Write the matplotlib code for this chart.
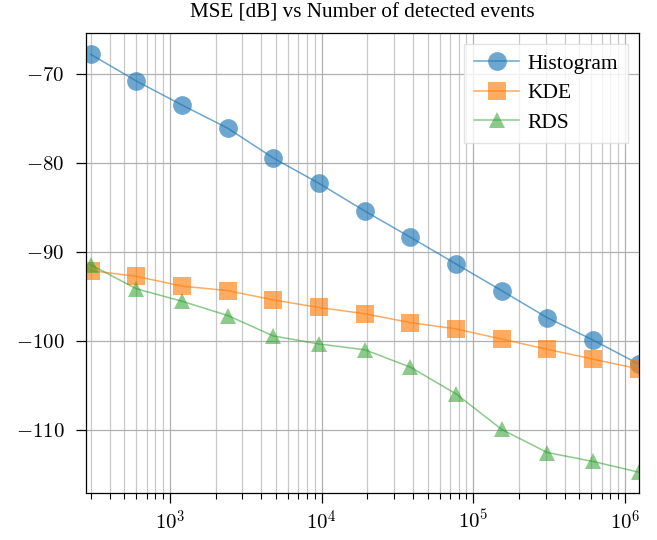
import numpy as np
import matplotlib
matplotlib.use("Agg")
import matplotlib.pyplot as plt
from matplotlib.ticker import FuncFormatter, LogLocator, NullFormatter, MultipleLocator

plt.rcParams['mathtext.fontset'] = 'cm'
plt.rcParams['font.family'] = ['Liberation Serif', 'DejaVu Serif']

n_events = [300, 600, 1200, 2400, 4800, 9600, 19200, 38400, 76800,
            153600, 307200, 614400, 1228800]
mse_hist = [-67.75, -70.75, -73.45, -76.05, -79.4, -82.25, -85.35, -88.3,
            -91.3, -94.3, -97.35, -99.85, -102.55]
mse_kde = [-92.05, -92.7, -93.8, -94.3, -95.35, -96.2, -96.9, -97.9,
           -98.6, -99.75, -100.9, -102.0, -103.1]
mse_rds = [-91.4, -94.1, -95.5, -97.1, -99.4, -100.3, -100.95, -102.9,
           -105.9, -109.9, -112.5, -113.5, -114.7]
labels = ["Histogram", "KDE", "RDS"]
title = "MSE [dB] vs Number of detected events"

fig = plt.figure(figsize=(6.57, 5.4), dpi=100)
ax = fig.add_axes([0.1305, 0.087, 0.9726 - 0.1305, 0.9389 - 0.087])

ax.plot(n_events, mse_hist, marker='o', ms=13.5, mew=0, color='#1f77b4', alpha=0.65, lw=1.1, label=labels[0])
ax.plot(n_events, mse_kde, marker='s', ms=12.5, mew=0, color='#ff7f0e', alpha=0.65, lw=1.1, label=labels[1])
ax.plot(n_events, mse_rds, marker='^', ms=12, mew=0, color='#2ca02c', alpha=0.55, lw=1.1, label=labels[2])

ax.set_xscale('log')
ax.set_xlim(278, 1237000)
ax.set_ylim(-117.05, -65.35)

ax.xaxis.set_major_locator(LogLocator(base=10, numticks=20))
ax.xaxis.set_minor_locator(LogLocator(base=10, subs=np.arange(2, 10), numticks=100))
ax.xaxis.set_major_formatter(FuncFormatter(lambda v, p: r'$10^{%d}$' % round(np.log10(v))))
ax.xaxis.set_minor_formatter(NullFormatter())
ax.yaxis.set_major_locator(MultipleLocator(10))
ax.yaxis.set_major_formatter(FuncFormatter(lambda v, p: r'$%d$' % round(v)))

ax.grid(True, which='major', color='#b0b0b0', lw=0.9)
ax.grid(True, which='minor', axis='x', color='#c8c8c8', lw=0.9)
ax.set_axisbelow(True)

ax.tick_params(axis='both', which='major', length=7.5, width=0.9, labelsize=15, direction='out')
ax.tick_params(axis='x', which='major', pad=5)
ax.tick_params(axis='y', which='major', pad=8)
ax.tick_params(axis='x', which='minor', length=4.5, width=0.8)
for s in ax.spines.values():
    s.set_linewidth(0.9)

ax.set_title(title, fontsize=15.2, pad=11)
leg = ax.legend(loc='upper right', fontsize=15.5, frameon=True, fancybox=False,
                borderaxespad=0.5, handlelength=2.1, handletextpad=0.4,
                labelspacing=0.45, borderpad=0.45)
leg.get_frame().set_edgecolor('#dddddd')

fig.savefig('out.png', dpi=100)
